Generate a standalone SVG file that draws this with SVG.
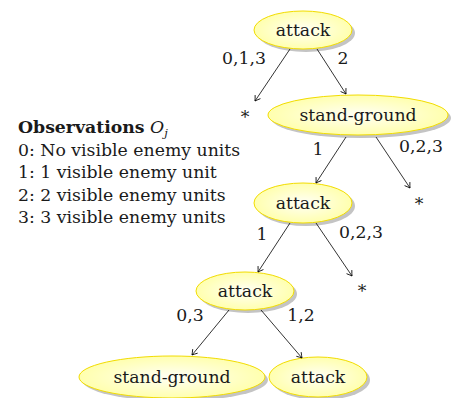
<svg xmlns="http://www.w3.org/2000/svg" width="453" height="398" viewBox="0 0 453 398">
<defs>
<radialGradient id="ball" cx="0.5" cy="0.5" r="0.5">
<stop offset="0" stop-color="#fffff6"/>
<stop offset="1" stop-color="#ffffae"/>
</radialGradient>
<marker id="arr" viewBox="-6 -4 7 8" refX="0" refY="0" markerWidth="7" markerHeight="8" markerUnits="userSpaceOnUse" orient="auto">
<path d="M-5,-3.2 Q-1.5,-0.8 0,0 Q-1.5,0.8 -5,3.2" fill="none" stroke="#000" stroke-width="0.8"/>
</marker>
</defs>
<style>
text{font-family:"DejaVu Serif","Liberation Serif",serif;font-size:17.3px;fill:#1a1a1a}
.n text{text-anchor:middle}
.sh{fill:#c4c4c4}
.el{fill:url(#ball);stroke:#f2dc00;stroke-width:1}
.e line{stroke:#000;stroke-width:0.8;marker-end:url(#arr)}
.lb{text-anchor:middle}
</style>
<g id="legend">
<text x="18" y="133"><tspan font-weight="bold">Observations</tspan> <tspan font-style="italic">O</tspan><tspan font-style="italic" font-size="11.5" dy="4">j</tspan></text>
<text x="18" y="156">0: No visible enemy units</text>
<text x="18" y="178">1: 1 visible enemy unit</text>
<text x="18" y="201">2: 2 visible enemy units</text>
<text x="18" y="223">3: 3 visible enemy units</text>
</g>
<g id="n1" class="n"><ellipse class="sh" cx="306" cy="33" rx="49" ry="19"/><ellipse class="el" cx="303" cy="30" rx="49" ry="19"/><text x="303" y="36">attack</text></g>
<g id="n2" class="n"><ellipse class="sh" cx="361" cy="118" rx="90" ry="20"/><ellipse class="el" cx="358" cy="115" rx="90" ry="20"/><text x="358" y="121">stand-ground</text></g>
<g id="n3" class="n"><ellipse class="sh" cx="306" cy="206" rx="49" ry="20"/><ellipse class="el" cx="303" cy="203" rx="49" ry="20"/><text x="303" y="209">attack</text></g>
<g id="n4" class="n"><ellipse class="sh" cx="248" cy="294" rx="49" ry="19"/><ellipse class="el" cx="245" cy="291" rx="49" ry="19"/><text x="245" y="297">attack</text></g>
<g id="n5" class="n"><ellipse class="sh" cx="175" cy="380" rx="93" ry="21"/><ellipse class="el" cx="172" cy="377" rx="93" ry="21"/><text x="172" y="383">stand-ground</text></g>
<g id="n6" class="n"><ellipse class="sh" cx="321" cy="380" rx="49" ry="20"/><ellipse class="el" cx="318" cy="377" rx="49" ry="20"/><text x="318" y="383">attack</text></g>
<g id="connectors" class="e">
<line x1="290" y1="49" x2="255" y2="101"/>
<line x1="317" y1="49" x2="346" y2="94"/>
<line x1="346" y1="137" x2="316" y2="183"/>
<line x1="376" y1="137" x2="410" y2="188"/>
<line x1="290" y1="223" x2="258" y2="272"/>
<line x1="316" y1="223" x2="352" y2="276"/>
<line x1="229" y1="310" x2="192" y2="355"/>
<line x1="261" y1="310" x2="302" y2="358"/>
</g>
<g id="labels">
<text class="lb" x="244" y="64">0,1,3</text>
<text class="lb" x="343" y="64">2</text>
<text class="lb" x="245" y="123">*</text>
<text class="lb" x="318" y="155">1</text>
<text class="lb" x="421" y="152">0,2,3</text>
<text class="lb" x="419" y="210">*</text>
<text class="lb" x="262" y="240">1</text>
<text class="lb" x="361" y="238">0,2,3</text>
<text class="lb" x="362" y="297">*</text>
<text class="lb" x="190" y="321">0,3</text>
<text class="lb" x="301" y="321">1,2</text>
</g>
</svg>
